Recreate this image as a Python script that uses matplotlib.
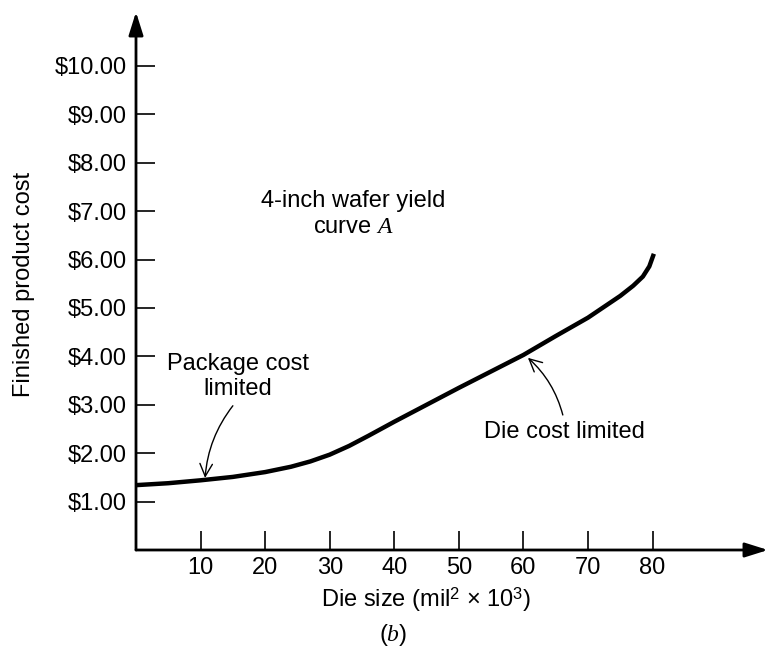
import matplotlib
matplotlib.use("Agg")
import matplotlib.pyplot as plt

plt.rcParams['font.family'] = ['Liberation Sans', 'DejaVu Sans']
plt.rcParams['mathtext.fontset'] = 'custom'
plt.rcParams['mathtext.rm'] = 'Liberation Sans'
plt.rcParams['mathtext.it'] = 'Liberation Serif:italic'

# data
die_size = [0, 5, 10, 15, 20, 24, 27, 30, 33, 36, 40, 45, 50, 55, 60, 65, 70, 73, 75, 77,
            78.5, 79.5, 80.2]
cost = [1.34, 1.38, 1.44, 1.51, 1.61, 1.72, 1.83, 1.97, 2.15, 2.36, 2.65, 3.00, 3.35, 3.69,
        4.03, 4.42, 4.80, 5.07, 5.25, 5.46, 5.65, 5.86, 6.12]
x_ticks = [10, 20, 30, 40, 50, 60, 70, 80]
y_ticks = [1, 2, 3, 4, 5, 6, 7, 8, 9, 10]
y_tick_labels = [f"${v:.2f}" for v in y_ticks]

W, H = 770, 647
fig = plt.figure(figsize=(W / 100, H / 100), dpi=100)
ax = fig.add_axes([136 / W, 97 / H, 632 / W, 538 / H])
ax.set_xlim(0, 632 / 6.457)
ax.set_ylim(0, 538 / 48.4)

ax.plot(die_size, cost, color='black', lw=3.2, solid_capstyle='butt', solid_joinstyle='round')

for s in ax.spines.values():
    s.set_visible(False)

arrow_kw = dict(arrowstyle='-|>,head_length=0.7,head_width=0.22', lw=2.0, color='black',
                mutation_scale=20, shrinkA=0, shrinkB=0)
ax.annotate('', xy=(1, 0), xytext=(0, 0), xycoords='axes fraction', arrowprops=arrow_kw,
            annotation_clip=False)
ax.annotate('', xy=(0, 1), xytext=(0, 0), xycoords='axes fraction', arrowprops=arrow_kw,
            annotation_clip=False)

ax.set_xticks(x_ticks)
ax.set_xticklabels([str(v) for v in x_ticks])
ax.set_yticks(y_ticks)
ax.set_yticklabels(y_tick_labels)
ax.tick_params(axis='both', direction='in', length=13.5, width=1.2, labelsize=17, colors='black')
ax.tick_params(axis='y', pad=6.5)
ax.tick_params(axis='x', pad=5)

ax.set_ylabel('Finished product cost', fontsize=17)
ax.yaxis.set_label_coords(-112 / 632, 0.5 - (284 - 281) / 538)
ax.set_xlabel(r'Die size (mil$^2$ × 10$^3$)', fontsize=17)
ax.xaxis.set_label_coords((426 - 136) / 632, -(600 - 550) / 538)
ax.xaxis.label.set_va('center')
ax.yaxis.label.set_va('center')

fig.text(393 / W, 1 - 635 / H, r'($\mathit{b}$)', fontsize=17, ha='center', va='center')

ax.text(33.6, 6.94, '4-inch wafer yield\ncurve $\\mathit{A}$', fontsize=17, ha='center', va='center')
ax.text(15.8, 3.58, 'Package cost\nlimited', fontsize=17, ha='center', va='center')
ax.text(66.4, 2.44, 'Die cost limited', fontsize=17, ha='center', va='center')

thin = dict(arrowstyle='->,head_length=0.5,head_width=0.25', lw=1.0, color='black',
            mutation_scale=18, shrinkA=0, shrinkB=0)
ax.annotate('', xy=(10.7, 1.49), xytext=(15.0, 2.98),
            arrowprops=dict(thin, connectionstyle='arc3,rad=0.15'))
ax.annotate('', xy=(60.7, 3.97), xytext=(66.1, 2.79),
            arrowprops=dict(thin, connectionstyle='arc3,rad=0.15'))

fig.savefig('out.png', dpi=100)
